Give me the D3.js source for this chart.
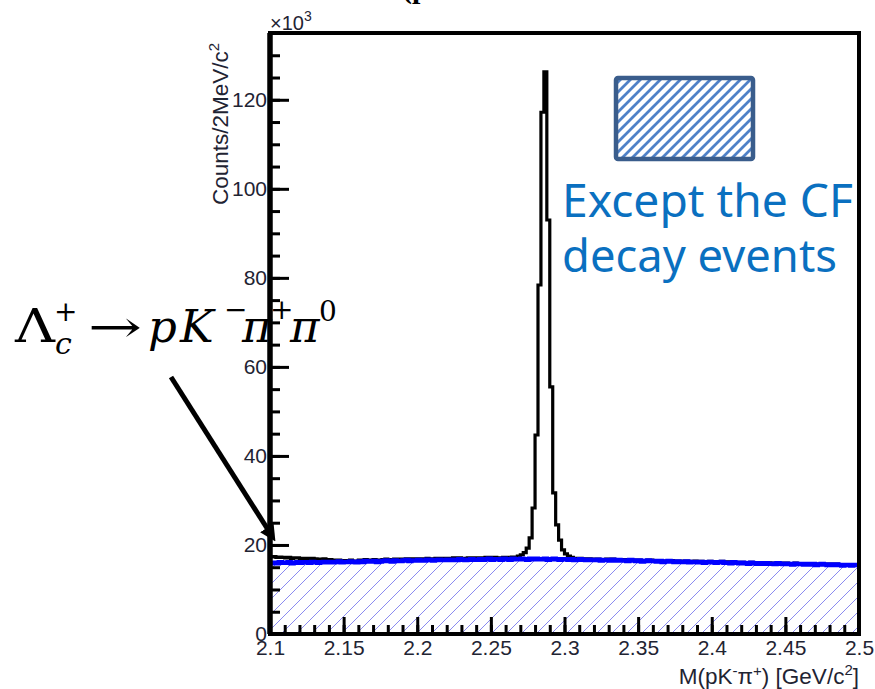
<!DOCTYPE html>
<html>
<head>
<meta charset="utf-8">
<script src="https://cdnjs.cloudflare.com/ajax/libs/d3/7.8.5/d3.min.js"></script>
<style>
  body { margin: 0; background: #fff; }
  svg { display: block; }
</style>
</head>
<body>
<svg width="875" height="689"></svg>
<script>
// histogram: 200 bins of 2 MeV from 2.1 to 2.5 GeV, counts in units of 10^3
var binStart = 2.1;
var binWidth = 0.002;

// all events (black)
var allCounts = [
  17.3,17.4,17.2,17.3,17.2,17.1,17.2,17.0,17.1,17.1,
  16.9,17.0,17.0,16.8,17.0,16.9,16.7,16.8,16.9,16.7,
  16.7,16.5,16.6,16.6,16.4,16.5,16.4,16.6,16.4,16.3,
  16.6,16.4,16.7,16.5,16.6,16.7,16.5,16.6,16.7,16.8,
  16.7,16.6,16.8,16.7,16.8,16.8,16.9,16.7,16.9,16.8,
  16.9,16.8,16.9,17.0,16.9,16.8,17.0,17.0,16.9,17.0,
  17.0,16.9,17.1,16.9,17.1,17.0,16.9,17.1,17.1,17.0,
  17.1,17.1,17.0,17.2,17.2,17.0,17.2,17.1,17.1,17.2,
  17.2,17.1,17.3,17.3,17.5,17.8,18.3,19.3,21.6,28.3,
  44.7,78.4,117.2,126.3,93.0,55.5,31.7,24.5,21.1,18.9,
  18.0,17.5,17.2,17.0,16.9,17.0,16.9,16.8,16.9,16.8,
  16.8,16.8,16.7,16.7,16.8,16.6,16.8,16.7,16.7,16.6,
  16.7,16.5,16.7,16.6,16.6,16.6,16.5,16.5,16.6,16.6,
  16.5,16.5,16.5,16.4,16.4,16.5,16.5,16.3,16.4,16.4,
  16.3,16.4,16.3,16.3,16.4,16.2,16.3,16.2,16.2,16.3,
  16.2,16.2,16.2,16.3,16.1,16.2,16.0,16.2,16.1,16.1,
  16.1,16.0,16.0,16.1,16.0,16.0,16.0,15.9,16.0,16.0,
  15.9,15.9,16.0,15.9,15.8,15.9,15.8,15.8,15.9,15.8,
  15.8,15.7,15.8,15.8,15.8,15.7,15.7,15.8,15.7,15.7,
  15.7,15.6,15.7,15.6,15.6,15.6,15.6,15.5,15.6,15.6
];

// except the CF decay events (blue, hatched)
var otherCounts = [
  15.9,16.0,15.9,16.1,16.0,16.0,16.1,15.9,16.0,16.1,
  16.0,16.1,16.1,16.0,16.2,16.1,16.0,16.1,16.2,16.1,
  16.2,16.1,16.2,16.3,16.1,16.2,16.2,16.3,16.2,16.1,
  16.3,16.2,16.4,16.3,16.3,16.4,16.2,16.3,16.4,16.5,
  16.4,16.3,16.5,16.4,16.4,16.5,16.6,16.4,16.5,16.5,
  16.6,16.5,16.5,16.7,16.6,16.5,16.6,16.7,16.6,16.6,
  16.7,16.6,16.7,16.6,16.8,16.7,16.6,16.7,16.8,16.7,
  16.7,16.8,16.7,16.8,16.9,16.7,16.8,16.8,16.7,16.9,
  16.8,16.7,16.9,16.8,16.8,16.9,16.8,16.7,16.9,16.8,
  16.9,16.8,16.8,16.9,16.7,16.8,16.9,16.8,16.7,16.8,
  16.8,16.7,16.8,16.6,16.7,16.8,16.7,16.6,16.7,16.6,
  16.6,16.7,16.5,16.6,16.6,16.5,16.7,16.5,16.6,16.5,
  16.5,16.4,16.6,16.5,16.4,16.5,16.3,16.4,16.5,16.4,
  16.4,16.3,16.4,16.2,16.3,16.4,16.3,16.2,16.3,16.2,
  16.2,16.3,16.1,16.2,16.2,16.1,16.2,16.0,16.1,16.2,
  16.1,16.0,16.1,16.2,16.0,16.0,15.9,16.1,16.0,15.9,
  16.0,15.9,15.8,16.0,15.9,15.8,15.9,15.8,15.9,15.8,
  15.8,15.7,15.9,15.8,15.7,15.8,15.7,15.6,15.8,15.7,
  15.7,15.6,15.7,15.6,15.7,15.5,15.6,15.7,15.6,15.5,
  15.6,15.5,15.6,15.5,15.4,15.5,15.5,15.4,15.5,15.5
];

var xTicks = [2.1, 2.15, 2.2, 2.25, 2.3, 2.35, 2.4, 2.45, 2.5];
var xTickLabels = ["2.1", "2.15", "2.2", "2.25", "2.3", "2.35", "2.4", "2.45", "2.5"];
var yTicks = [0, 20, 40, 60, 80, 100, 120];

var frame = { left: 270, right: 859, top: 33, bottom: 634 };

var xScale = d3.scaleLinear().domain([2.1, 2.5]).range([frame.left, frame.right]);
var yScale = d3.scaleLinear().domain([0, 135]).range([frame.bottom, frame.top]);

var svg = d3.select("svg");
var defs = svg.append("defs");

defs.append("clipPath").attr("id", "plotclip")
  .append("rect")
  .attr("x", frame.left).attr("y", frame.top)
  .attr("width", frame.right - frame.left).attr("height", frame.bottom - frame.top);

// ROOT style 3004 hatch
var hatch = defs.append("pattern").attr("id", "hatch")
  .attr("patternUnits", "userSpaceOnUse")
  .attr("width", 15).attr("height", 15);
hatch.append("path")
  .attr("d", "M0,15 L15,0 M-4,4 L4,-4 M11,19 L19,11")
  .attr("stroke", "#8a8af0").attr("stroke-width", 1).attr("fill", "none");

var hatch2 = defs.append("pattern").attr("id", "hatch2")
  .attr("patternUnits", "userSpaceOnUse")
  .attr("width", 10).attr("height", 10);
hatch2.append("path")
  .attr("d", "M0,10 L10,0 M-3,3 L3,-3 M7,13 L13,7")
  .attr("stroke", "#4f81c7").attr("stroke-width", 2.8).attr("fill", "none");

// step points: each bin's low edge, plus the last upper edge
var stepPoints = function(counts) {
  var pts = counts.map(function(v, i) { return [binStart + i * binWidth, v]; });
  pts.push([binStart + counts.length * binWidth, counts[counts.length - 1]]);
  return pts;
};

var plot = svg.append("g").attr("clip-path", "url(#plotclip)");

var line = d3.line()
  .x(function(d) { return xScale(d[0]); })
  .y(function(d) { return yScale(d[1]); })
  .curve(d3.curveStepAfter);

var area = d3.area()
  .x(function(d) { return xScale(d[0]); })
  .y0(yScale(0))
  .y1(function(d) { return yScale(d[1]); })
  .curve(d3.curveStepAfter);

plot.append("path")
  .datum(stepPoints(otherCounts))
  .attr("d", area)
  .attr("fill", "url(#hatch)");

plot.append("path")
  .datum(stepPoints(allCounts))
  .attr("d", line)
  .attr("fill", "none")
  .attr("stroke", "#000")
  .attr("stroke-width", 3.2);

plot.append("path")
  .datum(stepPoints(otherCounts))
  .attr("d", line)
  .attr("fill", "none")
  .attr("stroke", "#0000ff")
  .attr("stroke-width", 4.5);

// axes, ticks inside like ROOT
var xMajor = d3.axisBottom(xScale)
  .tickValues(xTicks)
  .tickSize(-17)
  .tickPadding(6)
  .tickFormat(function(d, i) { return xTickLabels[i]; });
var xMinor = d3.axisBottom(xScale)
  .tickValues(xScale.ticks(40))
  .tickSize(-9)
  .tickFormat("");
var yMajor = d3.axisLeft(yScale)
  .tickValues(yTicks)
  .tickSize(-19)
  .tickPadding(3);
var yMinor = d3.axisLeft(yScale)
  .tickValues(d3.range(0, 136, 5))
  .tickSize(-10)
  .tickFormat("");

var styleAxis = function(g) {
  g.select(".domain").remove();
  g.selectAll("line").attr("stroke", "#000").attr("stroke-width", 3);
  g.selectAll("text")
    .attr("fill", "#1f2433")
    .attr("font-family", "Liberation Sans, Arial, sans-serif")
    .attr("font-size", 21);
};

svg.append("g").attr("transform", "translate(0," + frame.bottom + ")").call(xMinor).call(styleAxis);
svg.append("g").attr("transform", "translate(0," + frame.bottom + ")").call(xMajor).call(styleAxis);
svg.append("g").attr("transform", "translate(" + frame.left + ",0)").call(yMinor).call(styleAxis);
svg.append("g").attr("transform", "translate(" + frame.left + ",0)").call(yMajor).call(styleAxis);

svg.append("rect")
  .attr("x", frame.left).attr("y", frame.top)
  .attr("width", frame.right - frame.left).attr("height", frame.bottom - frame.top)
  .attr("fill", "none").attr("stroke", "#000").attr("stroke-width", 4);
svg.append("line")
  .attr("x1", frame.left).attr("x2", frame.left)
  .attr("y1", frame.top).attr("y2", frame.bottom)
  .attr("stroke", "#000").attr("stroke-width", 5.5);

// axis titles
var sans = "Liberation Sans, Arial, sans-serif";
var yTitle = svg.append("text")
  .attr("transform", "translate(228,205) rotate(-90)")
  .attr("font-family", sans).attr("font-size", 22.5).attr("fill", "#1f2433");
yTitle.append("tspan").text("Counts/2MeV/c");
yTitle.append("tspan").attr("font-size", 15).attr("dy", -9).text("2");

var xTitle = svg.append("text")
  .attr("x", 859).attr("y", 684)
  .attr("text-anchor", "end")
  .attr("font-family", sans).attr("font-size", 22.5).attr("fill", "#1f2433");
xTitle.append("tspan").text("M(pK");
xTitle.append("tspan").attr("font-size", 15).attr("dy", -8).text("-");
xTitle.append("tspan").attr("dy", 8).text("\u03c0");
xTitle.append("tspan").attr("font-size", 15).attr("dy", -8).text("+");
xTitle.append("tspan").attr("dy", 8).text(") [GeV/c");
xTitle.append("tspan").attr("font-size", 15).attr("dy", -9).text("2");
xTitle.append("tspan").attr("dy", 9).text("]");

var expo = svg.append("text")
  .attr("x", 270).attr("y", 30)
  .attr("font-family", sans).attr("font-size", 20).attr("fill", "#1f2433");
expo.append("tspan").text("\u00d710");
expo.append("tspan").attr("font-size", 14).attr("dy", -9).text("3");

// cut-off title at the very top
svg.append("text")
  .attr("x", 402).attr("y", -2)
  .attr("font-family", "Liberation Serif, serif").attr("font-weight", "bold")
  .attr("font-size", 30).text("(p");

// legend box
svg.append("rect")
  .attr("x", 616).attr("y", 78).attr("width", 137).attr("height", 81)
  .attr("rx", 2)
  .attr("fill", "url(#hatch2)")
  .attr("stroke", "#3a5d8c").attr("stroke-width", 4.5);

var noteFont = "Noto Sans, Open Sans, sans-serif";
svg.append("text")
  .attr("x", 562).attr("y", 217)
  .attr("font-family", noteFont).attr("font-size", 46)
  .attr("fill", "#0a70c0")
  .attr("textLength", 291).attr("lengthAdjust", "spacingAndGlyphs")
  .text("Except the CF");
svg.append("text")
  .attr("x", 562).attr("y", 272)
  .attr("font-family", noteFont).attr("font-size", 46)
  .attr("fill", "#0a70c0")
  .attr("textLength", 275).attr("lengthAdjust", "spacingAndGlyphs")
  .text("decay events");

// decay formula
var serif = "DejaVu Serif, Liberation Serif, serif";
var formula = [
  { t: "\u039b", x: 15, y: 342, s: 46, it: false, w: 40 },
  { t: "c", x: 55, y: 354, s: 30, it: true, w: 0 },
  { t: "+", x: 54, y: 321, s: 28, it: false, w: 0 },
  { t: "\u2192", x: 88, y: 342, s: 44, it: false, w: 54 },
  { t: "p", x: 148, y: 342, s: 45, it: true, w: 0 },
  { t: "K", x: 180, y: 342, s: 45, it: true, w: 0 },
  { t: "\u2212", x: 224, y: 319, s: 28, it: false, w: 0 },
  { t: "\u03c0", x: 242, y: 342, s: 45, it: true, w: 0 },
  { t: "+", x: 270, y: 319, s: 28, it: false, w: 0 },
  { t: "\u03c0", x: 290, y: 342, s: 45, it: true, w: 0 },
  { t: "0", x: 319, y: 321, s: 28, it: false, w: 0 }
];
svg.selectAll(".formula")
  .data(formula)
  .enter()
  .append("text")
  .attr("class", "formula")
  .attr("x", function(d) { return d.x; })
  .attr("y", function(d) { return d.y; })
  .attr("font-family", serif)
  .attr("font-size", function(d) { return d.s; })
  .attr("font-style", function(d) { return d.it ? "italic" : "normal"; })
  .attr("textLength", function(d) { return d.w ? d.w : null; })
  .attr("lengthAdjust", "spacingAndGlyphs")
  .attr("fill", "#000")
  .text(function(d) { return d.t; });

// arrow to the low-mass region
defs.append("marker").attr("id", "head")
  .attr("viewBox", "0 0 10 10").attr("refX", 6).attr("refY", 5)
  .attr("markerWidth", 3.2).attr("markerHeight", 3.2)
  .attr("orient", "auto")
  .append("path").attr("d", "M0,0 L10,5 L0,10 z").attr("fill", "#000");
svg.append("line")
  .attr("x1", 171).attr("y1", 377)
  .attr("x2", 272).attr("y2", 536)
  .attr("stroke", "#000").attr("stroke-width", 5)
  .attr("marker-end", "url(#head)");
</script>
</body>
</html>
